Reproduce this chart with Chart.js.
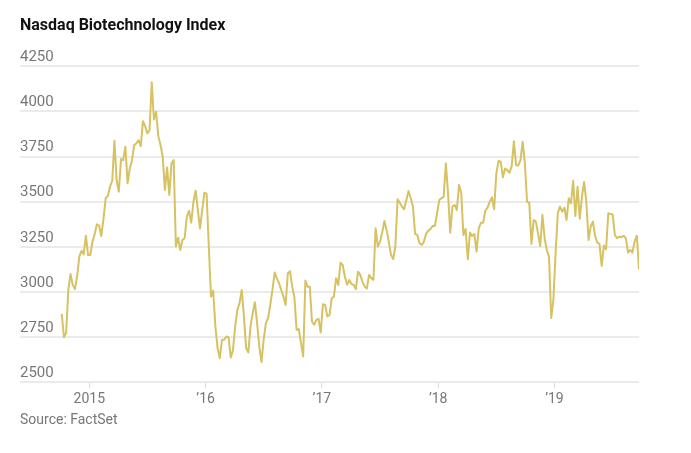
<!DOCTYPE html>
<html>
<head>
<meta charset="utf-8">
<script src="https://cdn.jsdelivr.net/npm/chart.js@4.4.0/dist/chart.umd.min.js"></script>
<style>
  html, body { margin: 0; padding: 0; background: #fff; }
  #wrap { width: 691px; height: 453px; }
</style>
</head>
<body>
<div id="wrap"><canvas id="nbiChart"></canvas></div>
<script>
// weekly closes, Oct 2014 - Sep 2019
const indexValues = [
  2879, 2750, 2773, 3012, 3100, 3040, 3016, 3086, 3196, 3228, 3209, 3312, 3205, 3205, 3279,
  3320, 3375, 3368, 3310, 3402, 3519, 3532, 3583, 3616, 3837, 3620, 3555, 3736, 3730, 3804,
  3602, 3684, 3730, 3813, 3822, 3841, 3808, 3946, 3918, 3878, 3896, 4161, 3955,
  3998, 3863, 3813, 3750, 3565, 3690, 3537, 3712, 3730, 3252, 3301, 3233, 3288, 3298, 3417,
  3450, 3384, 3500, 3561, 3454, 3353, 3454, 3550, 3543, 3252, 2975, 3008, 2809, 2690, 2634,
  2736, 2736, 2754, 2749, 2638, 2677, 2809, 2902, 2939, 3012, 2865, 2690, 2666, 2809,
  2883, 2944, 2828, 2699, 2612, 2736, 2828, 2856, 2929, 3012, 3108, 3077, 3049, 3012, 2975,
  2929, 3104, 3115, 3030, 2972, 2791, 2795, 2717, 2644, 3064, 3030, 3030, 2837, 2819, 2846,
  2852, 2776, 2932, 2929, 2865, 2874, 2966, 2975, 3077, 3040, 3163, 3150, 3086,
  3040, 3067, 3045, 3040, 3016, 3113, 3095, 3058, 3031, 3019, 3095, 3077, 3067, 3353, 3252,
  3279, 3329, 3393, 3344, 3279, 3206, 3183, 3252, 3513, 3495, 3473, 3458, 3509, 3559, 3519,
  3473, 3322, 3316, 3270, 3261, 3279, 3322, 3340, 3349, 3366, 3366, 3436, 3509,
  3519, 3528, 3712, 3546, 3329, 3473, 3482, 3454, 3592, 3550, 3316, 3349, 3182, 3329, 3310,
  3322, 3224, 3353, 3384, 3384, 3450, 3467, 3500, 3524, 3458, 3657, 3725, 3721, 3635, 3684,
  3675, 3660, 3697, 3835, 3702, 3701, 3730, 3832, 3712, 3500, 3495, 3266, 3399,
  3390, 3325, 3255, 3427, 3298, 3233, 3196, 2856, 2957, 3215, 3436, 3473, 3445, 3467, 3399,
  3519, 3491, 3616, 3421, 3583, 3406, 3528, 3609, 3500, 3288, 3362, 3390, 3310, 3274, 3266,
  3145, 3257, 3237, 3436, 3432, 3430, 3316, 3298, 3307, 3303, 3312, 3298, 3218, 3233, 3218,
  3279, 3312, 3126
];

// first and last week, as fractional years
const firstWeek = 2014.763;
const lastWeek = 2019.727;

const yearTicks = [2015, 2016, 2017, 2018, 2019];
const yearLabels = ["2015", "\u201916", "\u201917", "\u201918", "\u201919"];

const step = (lastWeek - firstWeek) / (indexValues.length - 1);
const points = indexValues.map((v, i) => ({ x: firstWeek + i * step, y: v }));

const ctx = document.getElementById("nbiChart").getContext("2d");
const nbiChart = new Chart(ctx, {
  type: "line",
  data: {
    datasets: [
      {
        label: "Nasdaq Biotechnology Index",
        data: points,
        borderColor: "rgb(214, 194, 98)",
        borderWidth: 2,
        pointRadius: 0,
        tension: 0,
        borderJoinStyle: "round",
        fill: false,
      },
    ],
  },
  options: {
    responsive: true,
    maintainAspectRatio: false,
    animation: false,
    layout: { padding: { left: 20, right: 52, top: 0, bottom: 0 } },
    plugins: {
      legend: { display: false },
      tooltip: { enabled: false },
      title: {
        display: true,
        text: "Nasdaq Biotechnology Index",
        align: "start",
        color: "#121212",
        font: { family: "Roboto", size: 16, weight: "bold" },
        padding: { top: 16, bottom: 31 },
      },
      subtitle: {
        display: true,
        position: "bottom",
        text: "Source: FactSet",
        align: "start",
        color: "#777",
        font: { family: "Roboto", size: 14 },
        padding: { top: 1, bottom: 24 },
      },
    },
    scales: {
      x: {
        type: "linear",
        min: 2014.404,
        max: lastWeek,
        afterBuildTicks: (axis) => {
          axis.ticks = yearTicks.map((v) => ({ value: v }));
        },
        ticks: {
          color: "#777",
          font: { family: "Roboto", size: 14 },
          padding: 3,
          maxRotation: 0,
          callback: (value) => yearLabels[yearTicks.indexOf(value)],
        },
        grid: {
          drawOnChartArea: false,
          drawTicks: true,
          tickLength: 6,
          color: "#dcdcdc",
        },
        border: { display: false },
      },
      y: {
        min: 2500,
        max: 4250,
        ticks: {
          stepSize: 250,
          mirror: true,
          padding: 0,
          labelOffset: -9,
          color: "#777",
          font: { family: "Roboto", size: 15 },
          callback: (value) => String(value),
        },
        grid: {
          color: "#ebebeb",
          lineWidth: 2,
          drawTicks: false,
        },
        border: { display: false },
      },
    },
  },
});
</script>
</body>
</html>
